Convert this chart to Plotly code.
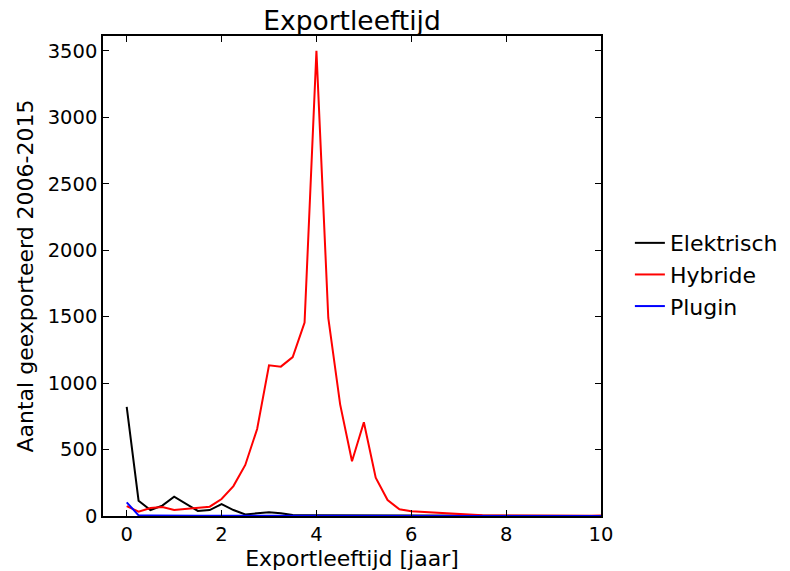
import plotly.graph_objects as go

leeftijd = [0.0, 0.25, 0.5, 0.75, 1.0, 1.25, 1.5, 1.75, 2.0, 2.25, 2.5, 2.75,
            3.0, 3.25, 3.5, 3.75, 4.0, 4.25, 4.5, 4.75, 5.0, 5.25, 5.5, 5.75,
            6.0, 6.25, 6.5, 6.75, 7.0, 7.25, 7.5, 7.75, 8.0, 8.25, 8.5, 8.75,
            9.0, 9.25, 9.5, 9.75, 10.0]

elektrisch = [822, 115, 45, 78, 145, 90, 38, 45, 90, 45, 12, 20,
              28, 20, 7, 5, 5, 3, 2, 2, 2, 1, 1, 1,
              1, 1, 1, 1, 1, 0, 0, 0, 0, 0, 0, 0,
              0, 0, 0, 0, 0]

hybride = [75, 32, 60, 68, 45, 52, 63, 70, 128, 225, 384, 655,
           1134, 1124, 1196, 1455, 3500, 1490, 840, 412, 706, 288, 120, 50,
           35, 30, 25, 17, 10, 6, 5, 4, 3, 3, 2, 2,
           2, 2, 1, 1, 3]

plugin = [103, 5, 3, 4, 5, 3, 2, 2, 2, 2, 1, 1,
          1, 1, 1, 1, 1, 1, 1, 0, 0, 0, 0, 0,
          0, 0, 0, 0, 0, 0, 0, 0, 0, 0, 0, 0,
          0, 0, 0, 0, 0]

x_ticks = [0, 2, 4, 6, 8, 10]
y_ticks = [0, 500, 1000, 1500, 2000, 2500, 3000, 3500]

FONT = "DejaVu Sans"

fig = go.Figure()
for name, vals, col in [("Elektrisch", elektrisch, "#000000"),
                        ("Hybride", hybride, "#ff0000"),
                        ("Plugin", plugin, "#0000ff")]:
    fig.add_trace(go.Scatter(x=leeftijd, y=vals, mode="lines", name=name,
                             legendgroup=name,
                             line=dict(color=col, width=2)))

axis_common = dict(showgrid=False, zeroline=False, showline=True,
                   linecolor="black", linewidth=1.5, mirror="allticks",
                   ticks="inside", ticklen=6, tickwidth=1, tickcolor="black",
                   automargin=False,
                   tickfont=dict(family=FONT, size=19.5, color="black"))

fig.update_layout(
    width=790, height=571,
    margin=dict(l=103, r=189, t=36, b=55, autoexpand=False),
    paper_bgcolor="white", plot_bgcolor="white",
    font=dict(family=FONT, color="black"),
    title=dict(text="Exportleeftijd", x=(103 + 601) / 2 / 790, xanchor="center",
               y=1 - 21 / 571, yanchor="middle",
               font=dict(family=FONT, size=26.5, color="black")),
    xaxis=dict(range=[-0.5, 10], tickvals=x_ticks,
               title=dict(text="Exportleeftijd [jaar]", standoff=0,
                          font=dict(family=FONT, size=22, color="black")),
               **axis_common),
    yaxis=dict(range=[0, 3612], tickvals=y_ticks,
               title=dict(text="Aantal geexporteerd 2006-2015", standoff=8,
                          font=dict(family=FONT, size=22, color="black")),
               **axis_common),
    legend=dict(x=1.058, xanchor="left", y=0.503, yanchor="middle",
                tracegroupgap=0, bgcolor="rgba(0,0,0,0)",
                font=dict(family=FONT, size=22, color="black")),
    showlegend=True,
)

fig.write_html("out.html")
